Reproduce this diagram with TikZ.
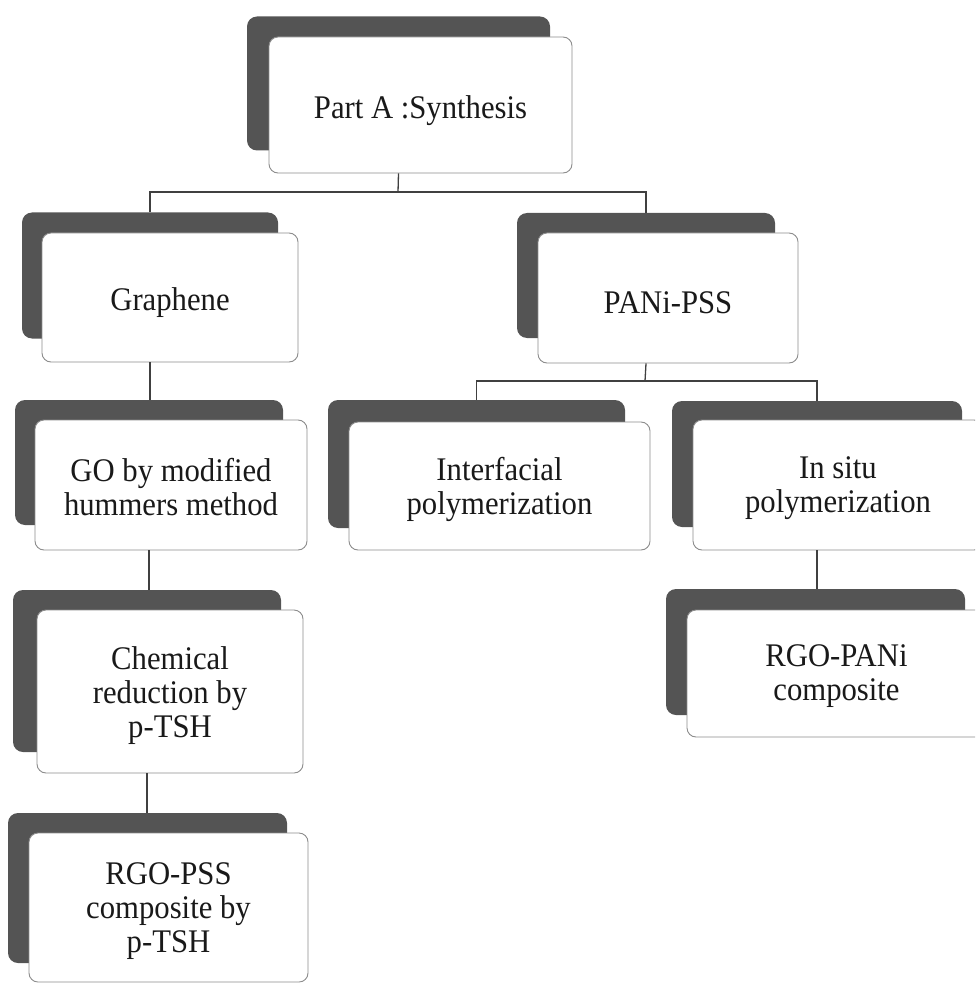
\documentclass[tikz,border=0pt]{standalone}
\usepackage{fontspec}
\setmainfont{Liberation Serif}[FakeStretch=0.93]
\tikzset{
  backbox/.style={fill=black!67, draw=none, rounded corners=10pt, inner sep=0pt},
  frontbox/.style={fill=white, draw=black!45, line width=0.9pt, rounded corners=9pt, inner sep=0pt},
  txt/.style={align=center, inner sep=0pt, text=black!90, font=\fontsize{33}{34}\selectfont},
  conn/.style={draw=black!75, line width=1.3pt}
}
\begin{document}
\begin{tikzpicture}[x=1pt,y=-1pt]
\useasboundingbox (0,0) rectangle (975,984);
\clip (0,0) rectangle (975,984);
% shadows
\node[backbox, minimum width=303pt, minimum height=134pt] (sA) at (398.5,83.5) {};
\node[backbox, minimum width=256pt, minimum height=126pt] (sG) at (150,275.5) {};
\node[backbox, minimum width=258pt, minimum height=125pt] (sP) at (646,275.5) {};
\node[backbox, minimum width=268pt, minimum height=125pt] (sGO) at (149,462.5) {};
\node[backbox, minimum width=268pt, minimum height=162pt] (sC) at (147,671) {};
\node[backbox, minimum width=279pt, minimum height=150pt] (sRP) at (147.5,888) {};
\node[backbox, minimum width=297pt, minimum height=128pt] (sI) at (476.5,464) {};
\node[backbox, minimum width=290pt, minimum height=126pt] (sS) at (817,464) {};
\node[backbox, minimum width=299pt, minimum height=126pt] (sR) at (815.5,652) {};
% front boxes
\node[frontbox, minimum width=303pt, minimum height=136pt] (A) at (420.5,105) {};
\node[frontbox, minimum width=256pt, minimum height=129pt] (G) at (170,297.5) {};
\node[frontbox, minimum width=260pt, minimum height=130pt] (P) at (668,298) {};
\node[frontbox, minimum width=272pt, minimum height=130pt] (GO) at (171,485) {};
\node[frontbox, minimum width=266pt, minimum height=163pt] (C) at (170,691.5) {};
\node[frontbox, minimum width=279pt, minimum height=149pt] (RP) at (168.5,907.5) {};
\node[frontbox, minimum width=301pt, minimum height=128pt] (I) at (499.5,486) {};
\node[frontbox, minimum width=290pt, minimum height=130pt] (S) at (838,485) {};
\node[frontbox, minimum width=299pt, minimum height=127pt] (R) at (836.5,673.5) {};
% texts
\node[txt] (tA) at ([yshift=-6pt]A.center) {Part A :Synthesis};
\node[txt] (tG) at ([yshift=-5pt]G.center) {Graphene};
\node[txt] (tP) at ([yshift=-5pt]P.center) {PANi-PSS};
\node[txt] (tGO) at ([yshift=-2pt]GO.center) {GO by modified\\hummers method};
\node[txt] (tC) at ([yshift=-4pt]C.center) {Chemical\\reduction by\\p-TSH};
\node[txt] (tRP) at ([yshift=-4pt]RP.center) {RGO-PSS\\composite by\\p-TSH};
\node[txt] (tI) at ([yshift=-3pt]I.center) {Interfacial\\polymerization};
\node[txt] (tS) at ([yshift=-3pt]S.center) {In situ\\polymerization};
\node[txt] (tR) at ([yshift=-3pt]R.center) {RGO-PANi\\composite};
% connectors
\coordinate (jA) at (398,192);
\draw[conn] (sA.center |- A.south) -- (jA);
\draw[conn] (sG.north) |- (jA) -| (sP.north);
\coordinate (jP) at (645,381);
\draw[conn] (sP.center |- P.south) -- (jP);
\draw[conn] (sI.north) |- (jP) -| (sS.north);
\draw[conn] (sG.center |- G.south) -- (sG.center |- sGO.north);
\draw[conn] (sGO.center |- GO.south) -- (sGO.center |- sC.north);
\draw[conn] (sC.center |- C.south) -- (sC.center |- sRP.north);
\draw[conn] (sS.center |- S.south) -- (sS.center |- sR.north);
\end{tikzpicture}
\end{document}
